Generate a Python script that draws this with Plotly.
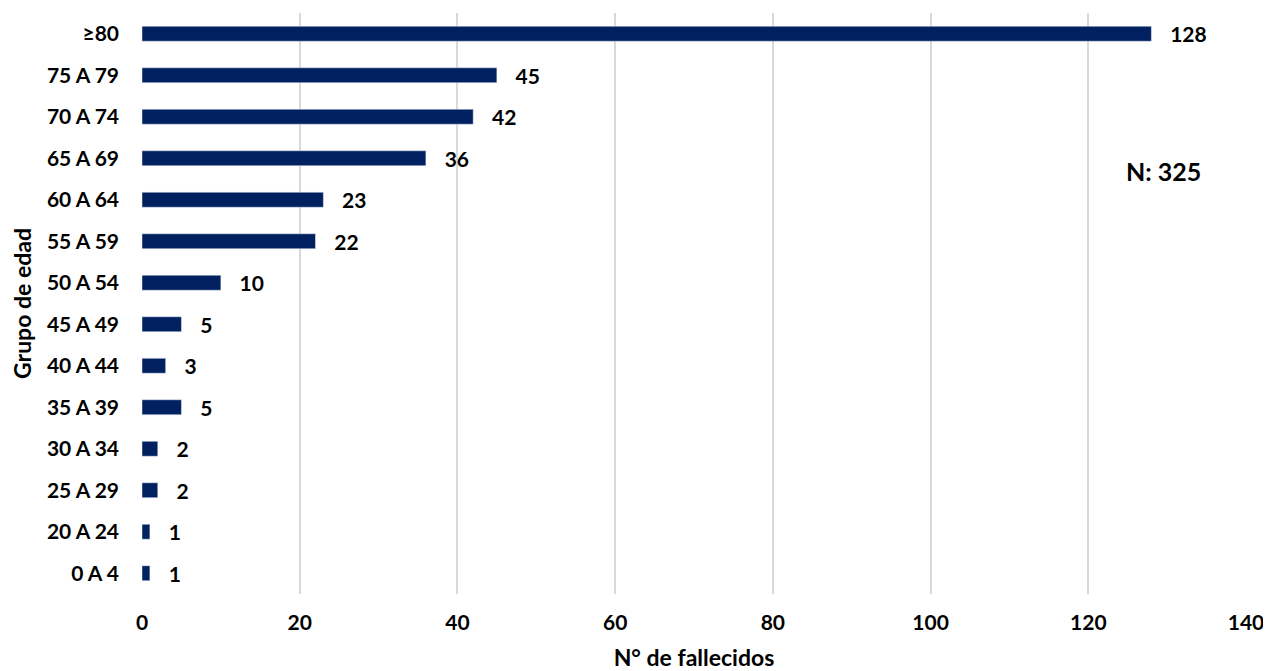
import plotly.graph_objects as go

# age groups (bottom to top) and number of deaths
grupos = ["0 A 4", "20 A 24", "25 A 29", "30 A 34", "35 A 39", "40 A 44", "45 A 49",
          "50 A 54", "55 A 59", "60 A 64", "65 A 69", "70 A 74", "75 A 79", "≥80"]
fallecidos = [1, 1, 2, 2, 5, 3, 5, 10, 22, 23, 36, 42, 45, 128]
total = 325

fuente = "Lato"

fig = go.Figure(go.Bar(
    x=fallecidos,
    y=grupos,
    orientation="h",
    width=0.36,
    marker=dict(color="#002060"),
    texttemplate="\u2002\u2005%{x}",
    textposition="outside",
    constraintext="none",
    textfont=dict(family=fuente, size=21, color="#000000", weight="bold"),
    cliponaxis=False,
))

# the page body has an 8px margin, so the figure is 8px smaller each way
fig.update_layout(
    width=1263,
    height=663,
    plot_bgcolor="white",
    paper_bgcolor="white",
    margin=dict(l=134, r=25, t=5, b=77),
    font=dict(family=fuente, size=21, color="#000000", weight="bold"),
    showlegend=False,
    annotations=[dict(
        text="N: " + str(total),
        x=0.925, y=0.728, xref="paper", yref="paper",
        showarrow=False, xanchor="center", yanchor="middle",
        font=dict(family=fuente, size=25, color="#000000", weight="bold"),
    )],
)

fig.update_xaxes(
    range=[0, 140],
    dtick=20,
    showgrid=True,
    gridcolor="#d9d9d9",
    gridwidth=2,
    zeroline=False,
    showline=False,
    automargin=False,
    ticklabelstandoff=14,
    title=dict(text="N° de fallecidos", standoff=17,
               font=dict(family=fuente, size=23, weight="bold")),
)

fig.update_yaxes(
    showgrid=False,
    zeroline=False,
    showline=False,
    automargin=False,
    ticklabelstandoff=22,
    title=dict(text="Grupo de edad", standoff=12,
               font=dict(family=fuente, size=23, weight="bold")),
)

fig.write_html("out.html")
